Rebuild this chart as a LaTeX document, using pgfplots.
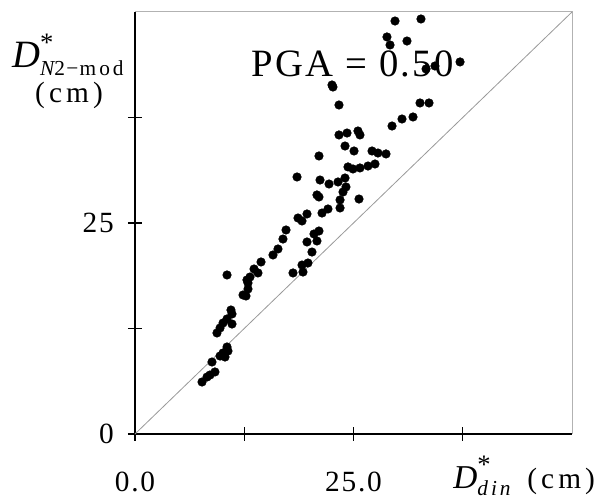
\documentclass[border=0pt]{standalone}
\usepackage{fontspec}
\setmainfont{Liberation Serif}[LetterSpace=6]
\newfontfamily\spc{Liberation Serif}[LetterSpace=14]
\usepackage{pgfplots}
\pgfplotsset{compat=1.18}

% D with a star above and a subscript: {size}{star raise}{subscript}
\newcommand{\Dstar}[3]{{\fontsize{#1}{#1}\selectfont\itshape D}%
  \rlap{\raisebox{#2}{\fontsize{20}{20}\selectfont *}}%
  \raisebox{-5.5pt}{\fontsize{16}{16}\selectfont\spc #3}}

\begin{document}
\begin{tikzpicture}
\begin{axis}[
  scale only axis,
  width=327.75pt, height=316.5pt,
  xmin=0, xmax=50, ymin=0, ymax=50,
  axis x line*=bottom, axis y line*=left,
  axis line style={black, line width=1pt, -},
  xtick={0,12.5,25,37.5}, xticklabels={0.0,,25.0,},
  ytick={0,12.5,25,37.5}, yticklabels={0,,25,},
  tick align=center,
  major tick length=10.5pt,
  tick style={black, line width=0.8pt},
  xticklabel style={font=\fontsize{22}{22}\selectfont, anchor=base, inner sep=0pt, yshift=-38pt},
  yticklabel style={font=\fontsize{22}{22}\selectfont, anchor=east, inner sep=0pt, xshift=-10.5pt},
  clip=false,
]
\draw[gray!60, line width=0.75pt] (rel axis cs:0,1) -- (rel axis cs:1,1) -- (rel axis cs:1,0);

\addplot[gray!80, line width=0.6pt] coordinates {(0,0) (50,50)};

\addplot[only marks, mark=*, mark size=3.2pt, black] coordinates {
(29.75,48.93) (32.72,49.17) (28.83,47.04) (29.18,46.09) (31.12,46.56)
(37.19,44.08) (33.30,43.25) (34.32,43.60) (22.54,41.35) (22.65,41.11)
(23.34,38.98) (32.61,39.22) (33.64,39.22) (29.41,36.49) (30.55,37.32)
(31.81,37.56) (23.34,35.43) (24.26,35.66) (25.51,35.90) (25.74,35.43)
(24.03,34.12) (25.06,33.53) (27.12,33.53) (27.80,33.29) (28.72,33.18)
(21.05,32.94) (24.37,31.64) (24.94,31.40) (25.74,31.52) (26.66,31.75)
(27.46,31.99) (18.54,30.45) (21.17,30.09) (22.20,29.62) (23.23,29.86)
(24.03,30.33) (24.14,29.27) (23.80,28.67) (20.82,28.32) (21.05,28.08)
(25.63,27.84) (23.46,27.73) (23.46,26.78) (22.08,26.66) (21.40,26.18)
(19.68,26.07) (18.65,25.59) (19.11,25.24) (17.28,24.17) (16.93,23.10)
(21.05,24.05) (20.48,23.70) (19.68,22.75) (20.82,22.87) (20.25,21.56)
(16.36,21.92) (15.79,21.21) (14.42,20.38) (13.62,19.55) (14.07,19.08)
(10.53,18.84) (13.16,18.60) (12.81,18.25) (12.93,17.89) (12.93,17.18)
(12.36,16.47) (12.70,16.35) (19.11,20.02) (19.79,20.26) (18.08,19.08)
(19.22,19.19) (10.98,14.69) (11.10,14.22) (10.53,13.63) (10.07,13.15)
(11.10,13.03) (9.73,12.56) (9.38,11.97) (10.53,10.31) (10.64,9.83)
(10.30,9.12) (9.73,9.24) (10.07,9.60) (8.81,8.53) (9.15,7.35)
(8.58,6.99) (8.24,6.75) (7.67,6.16)
};

\node[anchor=base, inner sep=0pt, font=\fontsize{29}{29}\selectfont]
  at (rel axis cs:0.4977,0.846) {PGA = 0.50};

\node[anchor=base west, inner sep=0pt] at (rel axis cs:-0.2815,0.8673)
  {\Dstar{29}{12.5pt}{\itshape N\upshape 2\kern1pt−\kern1pt mod}};
\node[anchor=base, inner sep=0pt, font=\fontsize{22}{22}\selectfont\spc]
  at (rel axis cs:-0.151,0.7844) {(cm)};

\node[anchor=base west, inner sep=0pt] at (rel axis cs:0.7277,-0.128)
  {\Dstar{25}{11pt}{\itshape din}};
\node[anchor=base west, inner sep=0pt, font=\fontsize{22}{22}\selectfont\spc]
  at (rel axis cs:0.897,-0.1303) {(cm)};

\coordinate (bbl) at (rel axis cs:-0.3089,-0.1588);
\coordinate (btr) at (rel axis cs:1.0572,1.0284);
\end{axis}
\pgfresetboundingbox
\useasboundingbox (bbl) rectangle (btr);
\end{tikzpicture}
\end{document}
